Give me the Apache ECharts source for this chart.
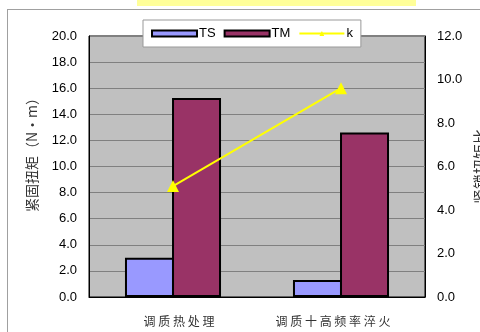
<!DOCTYPE html>
<html><head><meta charset="utf-8">
<script src="https://cdn.jsdelivr.net/npm/echarts@6/dist/echarts.min.js"></script>
<style>html,body{margin:0;padding:0;background:#fff}#c{width:480px;height:332px}</style>
</head><body><div id="c"></div>
<script>
const categories = ['调质热处理', '调质十高频率淬火'];
const tsValues = [3.0, 1.3];
const tmValues = [15.25, 12.6];
const kValues = [5.1, 9.6];
const leftTicks = { min: 0, max: 20, interval: 2 };
const rightTicks = { min: 0, max: 12, interval: 2 };

const chart = echarts.init(document.getElementById('c'), null, { renderer: 'canvas' });
const numFont = 'Liberation Sans, Arial, sans-serif';
const cjkFont = 'Noto Sans CJK SC, sans-serif';
chart.setOption({
  animation: false,
  backgroundColor: '#fff',
  graphic: [
    { type: 'rect', shape: { x: 137, y: 0, width: 279, height: 6 }, style: { fill: '#FFFF99' }, z: 100 },
    { type: 'line', shape: { x1: 7, y1: 9.5, x2: 480, y2: 9.5 }, style: { stroke: '#a0a0a0', lineWidth: 1 } },
    { type: 'line', shape: { x1: 7.5, y1: 9, x2: 7.5, y2: 332 }, style: { stroke: '#a0a0a0', lineWidth: 1 } }
  ],
  grid: { left: 89, right: 55, top: 36, bottom: 35, outerBoundsMode: 'none', containLabel: false,
    show: true, backgroundColor: '#C0C0C0', borderColor: '#000', borderWidth: 1 },
  legend: {
    left: 143, top: 20, width: 219, height: 27,
    padding: [7, 8, 7, 8],
    backgroundColor: '#fff', borderColor: '#999', borderWidth: 1,
    itemWidth: 45, itemHeight: 6, itemGap: 8,
    textStyle: { fontFamily: numFont, fontSize: 13, color: '#000', padding: [0, 0, 0, -3] },
    data: [
      { name: 'TS', icon: 'rect' },
      { name: 'TM', icon: 'rect' },
      { name: 'k' }
    ],
    z: 10
  },
  xAxis: {
    type: 'category', data: categories,
    axisLine: { lineStyle: { color: '#000', width: 1 } },
    axisTick: { show: false },
    axisLabel: { margin: 18, interval: 0, hideOverlap: false, fontFamily: cjkFont, fontSize: 12, color: '#333',
      formatter: (v, i) => '{' + (i === 0 ? 'a' : 'b') + '|' + v.split('').join(' ') + '}',
      rich: {
        a: { fontFamily: cjkFont, fontSize: 12, color: '#333', padding: [0, 0, 0, 12] },
        b: { fontFamily: cjkFont, fontSize: 12, color: '#333', padding: [0, 16, 0, 0] }
      } }
  },
  yAxis: [
    { type: 'value', position: 'left', min: leftTicks.min, max: leftTicks.max, interval: leftTicks.interval,
      name: '紧固扭矩（N·m）', nameLocation: 'middle', nameGap: 50, nameRotate: 90,
      nameTextStyle: { fontFamily: cjkFont, fontSize: 14, color: '#333', padding: [0, 0, 0, 30] },
      axisLine: { show: true, lineStyle: { color: '#000' } }, axisTick: { show: false },
      axisLabel: { formatter: v => v.toFixed(1), fontFamily: numFont, fontSize: 13, color: '#000', margin: 12 },
      splitLine: { lineStyle: { color: '#808080', width: 1 } } },
    { type: 'value', position: 'right', min: rightTicks.min, max: rightTicks.max, interval: rightTicks.interval,
      name: '紧锁扭矩比', nameLocation: 'middle', nameGap: 43, nameRotate: 90,
      nameTextStyle: { fontFamily: cjkFont, fontSize: 15, color: '#333' },
      axisLine: { show: true, lineStyle: { color: '#000' } }, axisTick: { show: false },
      axisLabel: { formatter: v => v.toFixed(1), fontFamily: numFont, fontSize: 13, color: '#000', margin: 12 },
      splitLine: { show: false } }
  ],
  series: [
    { name: 'TS', type: 'bar', data: tsValues, barWidth: 49, barGap: '-4%',
      itemStyle: { color: '#9999FF', borderColor: '#000', borderWidth: 2 } },
    { name: 'TM', type: 'bar', data: tmValues, barWidth: 49,
      itemStyle: { color: '#993366', borderColor: '#000', borderWidth: 2 } },
    { name: 'k', type: 'line', yAxisIndex: 1, data: kValues, symbol: 'triangle', symbolSize: 12,
      lineStyle: { color: '#FFFF00', width: 2 }, itemStyle: { color: '#FFFF00' } }
  ]
});
</script></body></html>
